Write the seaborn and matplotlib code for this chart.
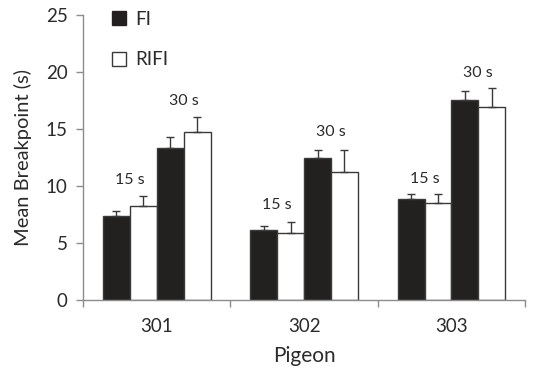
import matplotlib
matplotlib.use("Agg")
import matplotlib.pyplot as plt
import seaborn as sns
import pandas as pd
from matplotlib.patches import Patch

pigeons = ["301", "302", "303"]
conditions = ["FI 15 s", "RIFI 15 s", "FI 30 s", "RIFI 30 s"]
means = {
    "FI 15 s":   [7.35, 6.15, 8.9],
    "RIFI 15 s": [8.2, 5.85, 8.5],
    "FI 30 s":   [13.35, 12.5, 17.55],
    "RIFI 30 s": [14.75, 11.25, 16.9],
}
errors = {
    "FI 15 s":   [0.47, 0.38, 0.44],
    "RIFI 15 s": [0.88, 1.0, 0.78],
    "FI 30 s":   [0.92, 0.63, 0.8],
    "RIFI 30 s": [1.32, 1.9, 1.73],
}
label_15 = "15 s"
label_30 = "30 s"
label_15_y = [10.5, 8.3, 10.6]
label_30_y = [17.5, 14.7, 19.9]
legend_labels = ["FI", "RIFI"]
yticks = [0, 5, 10, 15, 20, 25]

rows = []
for c in conditions:
    for i, p in enumerate(pigeons):
        rows.append({"Pigeon": p, "Condition": c, "Mean": means[c][i], "Err": errors[c][i]})
df = pd.DataFrame(rows)

sns.set_theme(style="white")
plt.rcParams["font.family"] = ["Lato", "DejaVu Sans"]
text_col = "#2b2b2b"
spine_col = "#8c8c8c"

fig = plt.figure(figsize=(5.43, 3.68), dpi=100)
ax = fig.add_axes([0.153, 0.185, 0.814, 0.774])

palette = {"FI 15 s": "#231f20", "RIFI 15 s": "white", "FI 30 s": "#231f20", "RIFI 30 s": "white"}
sns.barplot(data=df, x="Pigeon", y="Mean", hue="Condition", order=pigeons, hue_order=conditions,
            palette=palette, width=0.73, gap=0, errorbar=None, edgecolor="#3a3a3a",
            linewidth=1.0, legend=False, ax=ax)

# error bars from bar geometry
bars = [p for p in ax.patches if p.get_height() > 0]
for k, c in enumerate(conditions):
    for i, p in enumerate(pigeons):
        bar = bars[k * len(pigeons) + i]
        xc = bar.get_x() + bar.get_width() / 2
        h = bar.get_height()
        ax.errorbar([xc], [h], yerr=[[0], [errors[c][i]]], fmt="none", ecolor="#3a3a3a",
                    elinewidth=1.0, capsize=3.2, capthick=1.0, zorder=1)

# condition labels
for i, p in enumerate(pigeons):
    b_fi15 = bars[0 * len(pigeons) + i]
    b_fi30 = bars[2 * len(pigeons) + i]
    x15 = b_fi15.get_x() + b_fi15.get_width()
    x30 = b_fi30.get_x() + b_fi30.get_width()
    ax.text(x15, label_15_y[i], label_15, ha="center", va="center", fontsize=11.5, color=text_col)
    ax.text(x30, label_30_y[i], label_30, ha="center", va="center", fontsize=11.5, color=text_col)

ax.set_ylim(0, 25)
ax.set_xlim(-0.5, 2.5)
ax.set_yticks(yticks)
ax.set_yticklabels([str(t) for t in yticks])
ax.set_xticks([0, 1, 2])
ax.set_xticks([-0.5, 0.5, 1.5, 2.5], minor=True)
ax.tick_params(axis="x", which="major", length=0, pad=13, labelsize=13.5, labelcolor=text_col)
ax.tick_params(axis="x", which="minor", length=5, width=1, color=spine_col, direction="out", bottom=True)
ax.tick_params(axis="y", length=5, width=1, color=spine_col, direction="out", left=True,
               labelsize=13.5, labelcolor=text_col, pad=6)
for s in ["top", "right"]:
    ax.spines[s].set_visible(False)
for s in ["left", "bottom"]:
    ax.spines[s].set_color(spine_col)
    ax.spines[s].set_linewidth(1)

ax.set_xlabel("Pigeon", fontsize=15, color=text_col, labelpad=8)
ax.set_ylabel("Mean Breakpoint (s)", fontsize=14.5, color=text_col, labelpad=10)

handles = [Patch(facecolor="#231f20", edgecolor="#231f20", label=legend_labels[0]),
           Patch(facecolor="white", edgecolor="#3a3a3a", label=legend_labels[1])]
leg = ax.legend(handles=handles, loc="upper left", bbox_to_anchor=(0.066, 1.015), frameon=False,
                fontsize=13.5, handlelength=0.75, handleheight=0.75, handletextpad=0.45,
                labelspacing=1.25, borderpad=0, borderaxespad=0)
for t in leg.get_texts():
    t.set_color(text_col)

fig.savefig("out.png", dpi=100)
